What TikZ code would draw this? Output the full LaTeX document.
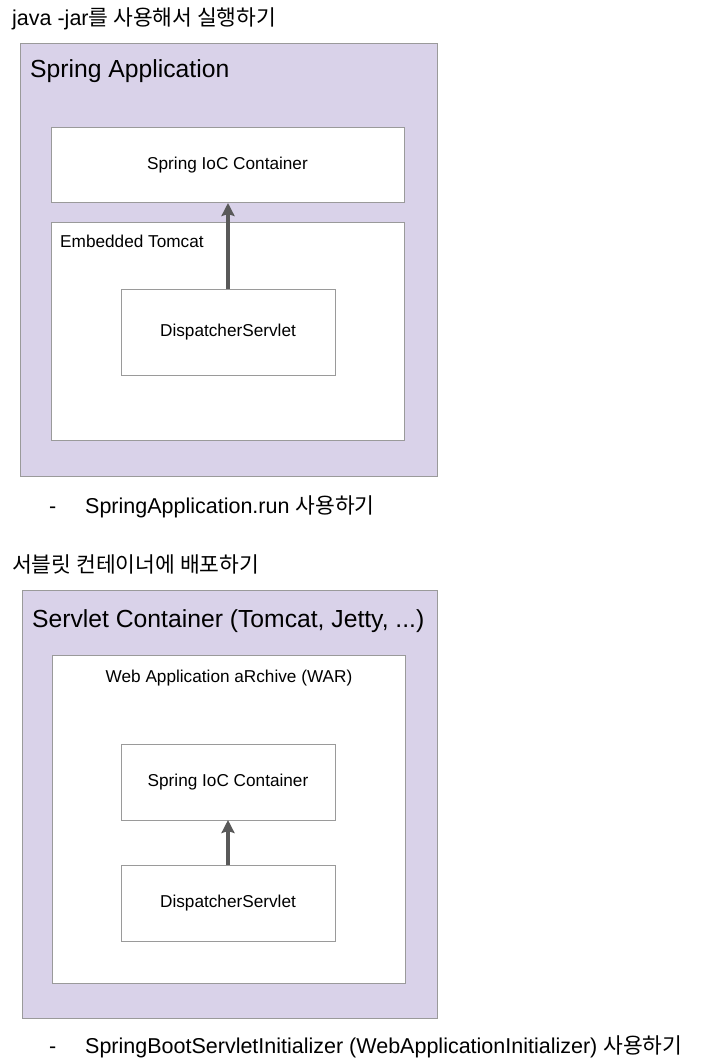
\documentclass[tikz,border=0pt]{standalone}
\usepackage{fontspec}
\setmainfont{Liberation Sans}
\newfontfamily\kr{Noto Sans CJK KR}
\usetikzlibrary{arrows.meta}
\definecolor{boxfill}{HTML}{D9D2E9}
\definecolor{boxline}{HTML}{9A9A9A}
\definecolor{arrowgray}{HTML}{595959}
\tikzset{
  box/.style={draw=boxline, line width=1pt, inner sep=0pt, outer sep=0pt, fill=white, font=\fontsize{17.2}{20}\selectfont},
  outerbox/.style={box, fill=boxfill},
  heading/.style={anchor=base west, inner sep=0pt, font=\fontsize{21.5}{25}\selectfont},
  biglabel/.style={anchor=base west, inner sep=0pt, font=\fontsize{24.7}{29}\selectfont},
  smalllabel/.style={anchor=base, inner sep=0pt, font=\fontsize{17.2}{20}\selectfont},
  usearrow/.style={draw=arrowgray, line width=3.2pt, -{Stealth[length=13pt,width=13pt,inset=2pt]}}
}
\begin{document}
\begin{tikzpicture}[x=1pt, y=-1pt]
    \useasboundingbox (0,0) rectangle (702,1064);

    % java -jar
    \node[heading](title1) at (12,26){java -jar{\kr 를 사용해서 실행하기}};
    \node[outerbox, minimum width=417pt, minimum height=432pt](app) at (228.5,260){};
    \node[biglabel](applabel) at (30,78){Spring Application};
    \node[box, minimum width=353pt, minimum height=75pt](ioc1) at (227.5,165.5){Spring IoC Container};
    \node[box, minimum width=353pt, minimum height=217pt](tomcat) at (227.5,331.5){};
    \node[smalllabel, anchor=base west](tomcatlabel) at (60,248){Embedded Tomcat};
    \node[box, minimum width=214pt, minimum height=86pt](ds1) at (228,332){DispatcherServlet};
    \draw[usearrow](ds1.north)--(ds1.north |- ioc1.south);

    \node[heading](dash1) at (49,513){-};
    \node[heading](run) at (85,513){SpringApplication.run {\kr 사용하기}};

    % servlet container
    \node[heading](title2) at (12,572){\kr 서블릿 컨테이너에 배포하기};
    \node[outerbox, minimum width=415pt, minimum height=428pt](container) at (229.5,804){};
    \node[biglabel](containerlabel) at (32,627){Servlet Container (Tomcat, Jetty, ...)};
    \node[box, minimum width=353pt, minimum height=328pt](war) at (228.5,819){};
    \node[smalllabel](warlabel) at (229,682){Web Application aRchive (WAR)};
    \node[box, minimum width=214pt, minimum height=76pt](ioc2) at (228,782){Spring IoC Container};
    \node[box, minimum width=214pt, minimum height=76pt](ds2) at (228,903){DispatcherServlet};
    \draw[usearrow](ds2.north)--(ds2.north |- ioc2.south);

    \node[heading](dash2) at (49,1053){-};
    \node[heading](init) at (85,1053){SpringBootServletInitializer (WebApplicationInitializer) {\kr 사용하기}};
  \end{tikzpicture}
\end{document}
